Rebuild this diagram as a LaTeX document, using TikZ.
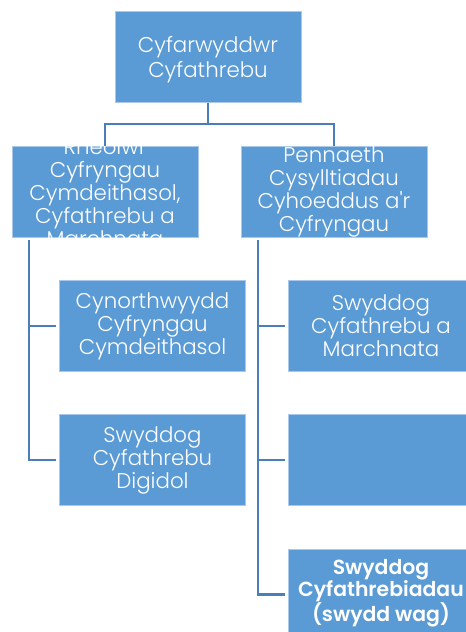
\documentclass[tikz,border=0pt]{standalone}
\usepackage{fontspec}
\setmainfont{Poppins Light}[BoldFont={Poppins SemiBold}, Ligatures=TeXOff]
\definecolor{boxblue}{HTML}{5B9BD5}
\definecolor{lineblue}{HTML}{4A7EBB}
\definecolor{edge}{HTML}{A9C8EA}
\tikzset{
  orgbox/.style={draw=edge, line width=0.6pt, fill=boxblue, minimum width=139.5pt, minimum height=68.25pt, inner sep=0pt},
  boxtext/.style={text=white, align=center, inner sep=0pt, font=\fontsize{16}{17.25}\selectfont},
  conn/.style={draw=lineblue, line width=2.1pt}
}
\begin{document}
\begin{tikzpicture}[x=0.75pt,y=-0.75pt]
\useasboundingbox (0,0) rectangle (466,632);
% boxes
\node[orgbox] (top) at (208,57) {};
\node[boxtext, font=\fontsize{16}{18.75}\selectfont] (toptext) at ([yshift=-1.8pt]top) {Cyfarwyddwr\\Cyfathrebu};
\node[orgbox] (l2a) at (105,191.5) {};
\begin{scope}
  \clip (l2a.south west) rectangle (l2a.north east);
  \node[boxtext] (l2atext) at ([yshift=-1pt]l2a) {Rheolwr\\Cyfryngau\\Cymdeithasol,\\Cyfathrebu a\\Marchnata};
\end{scope}
\node[orgbox] (l2b) at (334,191.5) {};
\node[boxtext] (l2btext) at (l2b) {Pennaeth\\Cysylltiadau\\Cyhoeddus a'r\\Cyfryngau};
\node[orgbox] (la1) at (152.5,326) {};
\node[boxtext] (la1text) at (la1) {Cynorthwyydd\\Cyfryngau\\Cymdeithasol};
\node[orgbox] (la2) at (152.5,460) {};
\node[boxtext] (la2text) at (la2) {Swyddog\\Cyfathrebu\\Digidol};
\node[orgbox] (rb1) at (381,326) {};
\node[boxtext] (rb1text) at (rb1) {Swyddog\\Cyfathrebu a\\Marchnata};
\node[orgbox] (rb2) at (381,460) {};
\node[orgbox] (rb3) at (381,594.5) {};
\node[boxtext, font=\bfseries\fontsize{15.3}{16.5}\selectfont] (rb3text) at ([yshift=1pt]rb3) {Swyddog\\Cyfathrebiadau\\(swydd wag)};
% connectors
\coordinate (j) at (208,124);
\draw[conn] (top.south) -- (j) -| (l2a.north);
\draw[conn] (j) -| (l2b.north);
\coordinate (ls) at (29,240);
\draw[conn] (ls) |- ([xshift=-2.25pt]la2.west);
\draw[conn] (ls |- la1.west) -- ([xshift=-2.25pt]la1.west);
\coordinate (rs) at (258,240);
\draw[conn] (rs) |- ([xshift=-2.25pt]rb3.west);
\draw[conn] (rs |- rb1.west) -- ([xshift=-2.25pt]rb1.west);
\draw[conn] (rs |- rb2.west) -- ([xshift=-2.25pt]rb2.west);
\end{tikzpicture}
\end{document}
